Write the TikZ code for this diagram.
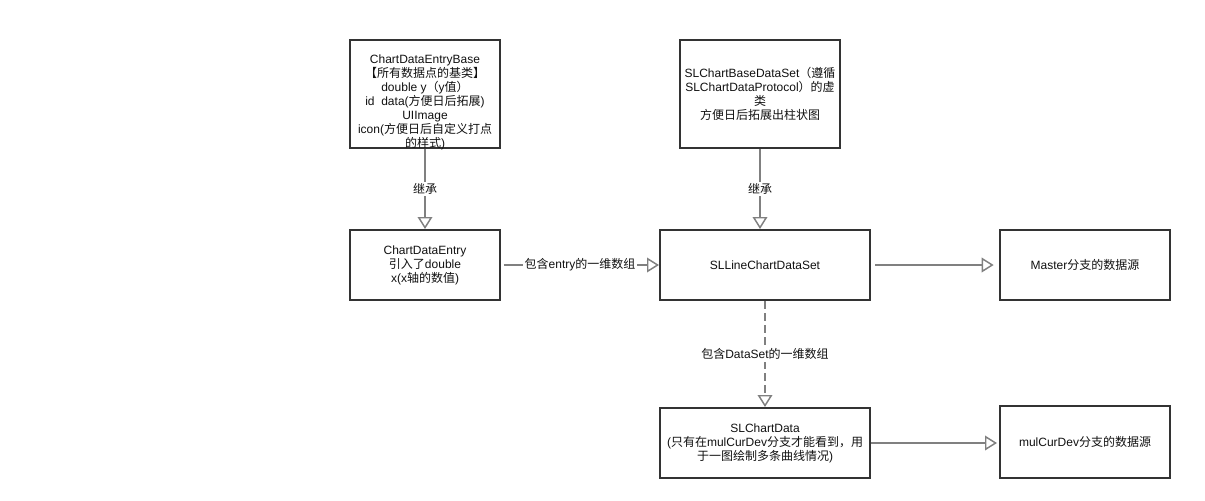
\documentclass[tikz,border=0pt]{standalone}
\usepackage{fontspec}
\setmainfont{Liberation Sans}
\newfontfamily\cjk{Noto Sans CJK SC}
\newcommand\zh[1]{{\cjk #1}}
\usetikzlibrary{arrows.meta}
\definecolor{boxc}{HTML}{333333}
\definecolor{edgec}{HTML}{808080}
\definecolor{txtc}{HTML}{111111}
\begin{document}
\begin{tikzpicture}[x=0.75pt,y=-0.75pt,
  box/.style={draw=boxc, line width=1.5pt, fill=white, inner sep=2pt,
    align=center, text=txtc, font=\fontsize{9pt}{10.5pt}\selectfont},
  txt/.style={inner sep=0pt, align=center, text=txtc, font=\fontsize{9pt}{10.5pt}\selectfont},
  edge/.style={draw=edgec, line width=1.1pt,
    -{Triangle[open, length=9pt, width=11pt, fill=white]}},
  dashedge/.style={edge, dash pattern=on 6pt off 3pt},
  lbl/.style={fill=white, inner sep=1.5pt, text=txtc, font=\fontsize{9pt}{10.5pt}\selectfont}]
\useasboundingbox (0,0) rectangle (1205,500);

% boxes
\node[box, minimum width=0.75*150pt, minimum height=0.75*108pt] (A) at (425,94) {};
\node[txt] (At) at (425,102) {ChartDataEntryBase\\\zh{【所有数据点的基类】}\\double y\zh{（}y\zh{值）}\\id\ \ data(\zh{方便日后拓展})\\UIImage\\icon(\zh{方便日后自定义打点}\\\zh{的样式})};

\node[box, minimum width=0.75*160pt, minimum height=0.75*108pt] (B) at (760,94)
  {SLChartBaseDataSet\zh{（遵循}\\SLChartDataProtocol\zh{）的虚}\\\zh{类}\\\zh{方便日后拓展出柱状图}};

\node[box, minimum width=0.75*150pt, minimum height=0.75*70pt] (C) at (425,265)
  {ChartDataEntry\\\zh{引入了}double\\x(x\zh{轴的数值})};

\node[box, minimum width=0.75*210pt, minimum height=0.75*70pt] (D) at (765,265)
  {SLLineChartDataSet};

\node[box, minimum width=0.75*170pt, minimum height=0.75*70pt] (E) at (1085,265)
  {Master\zh{分支的数据源}};

\node[box, minimum width=0.75*210pt, minimum height=0.75*70pt] (F) at (765,443)
  {SLChartData\\(\zh{只有在}mulCurDev\zh{分支才能看到，用}\\\zh{于一图绘制多条曲线情况})};

\node[box, minimum width=0.75*170pt, minimum height=0.75*72pt] (G) at (1085,442)
  {mulCurDev\zh{分支的数据源}};

% connectors
\draw[edge] (A.south) -- node[lbl] (l1) {\zh{继承}} (C.north);
\draw[edge] (B.south) -- node[lbl] (l2) {\zh{继承}} (B.south |- D.north);
\draw[edge, shorten <=2pt] (C.east) -- node[lbl] (l3) {\zh{包含}entry\zh{的一维数组}} (D.west);
\draw[edge, shorten <=3pt, shorten >=4pt] (D.east) -- (E.west);
\draw[dashedge] (D.south) -- node[lbl] (l4) {\zh{包含}DataSet\zh{的一维数组}} (F.north);
\draw[edge, shorten >=1.5pt] (F.east) -- (F.east -| G.west);
\end{tikzpicture}
\end{document}
